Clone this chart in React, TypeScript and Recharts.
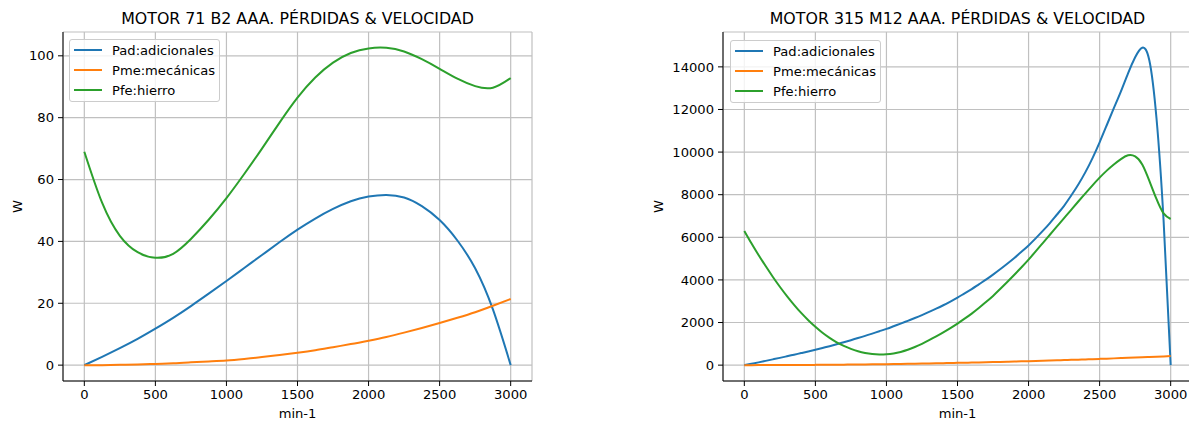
import { CartesianGrid, Legend, Line, LineChart, XAxis, YAxis } from 'recharts';

const FONT = '"DejaVu Sans", sans-serif';

// MOTOR 71 B2 AAA — losses (W) vs speed (min-1), every 125 min-1
const rpm71 = [0, 125, 250, 375, 500, 625, 750, 875, 1000, 1125, 1250, 1375, 1500, 1625, 1750, 1875, 2000, 2125, 2250, 2375, 2500, 2625, 2750, 2875, 3000];
const pad71 = [0, 2.7, 5.5, 8.5, 11.8, 15.3, 19.1, 23.1, 27.2, 31.4, 35.6, 39.8, 43.8, 47.4, 50.5, 53.0, 54.5, 55.0, 54.2, 51.4, 46.9, 40.3, 31.3, 18.0, 0];
const pme71 = [0, 0, 0.1, 0.2, 0.4, 0.6, 0.9, 1.2, 1.5, 2.0, 2.6, 3.3, 4.0, 4.8, 5.8, 6.8, 7.9, 9.1, 10.5, 12.0, 13.6, 15.3, 17.1, 19.2, 21.4];
const pfe71 = [69.0, 52.5, 41.8, 36.5, 34.7, 36.0, 40.8, 47.0, 54.0, 61.8, 70.0, 78.5, 86.5, 93.0, 97.8, 100.9, 102.4, 102.6, 101.4, 98.9, 95.8, 92.6, 90.2, 89.7, 92.8];

// MOTOR 315 M12 AAA — every 50 min-1
const rpm315 = [
  0, 50, 100, 150, 200, 250, 300, 350, 400, 450, 500, 550, 600, 650, 700, 750, 800, 850, 900, 950,
  1000, 1050, 1100, 1150, 1200, 1250, 1300, 1350, 1400, 1450, 1500, 1550, 1600, 1650, 1700, 1750, 1800, 1850, 1900, 1950,
  2000, 2050, 2100, 2150, 2200, 2250, 2300, 2350, 2400, 2450, 2500, 2550, 2600, 2650, 2700, 2750, 2800, 2850, 2900, 2950, 3000,
];
const pad315 = [
  0, 65, 130, 200, 270, 340, 415, 490, 565, 640, 720, 805, 890, 980, 1075, 1170, 1270, 1375, 1480, 1590,
  1700, 1825, 1950, 2080, 2210, 2350, 2500, 2650, 2810, 2985, 3170, 3370, 3570, 3790, 4010, 4250, 4500, 4760, 5030, 5320,
  5620, 5950, 6300, 6670, 7070, 7480, 7960, 8480, 9060, 9720, 10460, 11260, 12060, 12850, 13700, 14450, 14900, 14300, 11600, 6800, 0,
];
const pme315 = [
  0, 0, 1, 1, 2, 3, 4, 6, 7, 9, 12, 14, 17, 20, 23, 26, 30, 34, 38, 42,
  47, 52, 57, 62, 68, 73, 80, 86, 92, 99, 106, 113, 120, 128, 136, 144, 152, 160, 169, 178,
  187, 196, 206, 216, 226, 237, 247, 258, 269, 281, 293, 305, 317, 329, 342, 355, 368, 382, 395, 409, 423,
];
const pfe315 = [
  6300, 5720, 5170, 4650, 4150, 3680, 3240, 2830, 2450, 2110, 1800, 1520, 1280, 1070, 900, 760, 650, 570, 520, 500,
  510, 550, 620, 720, 850, 1000, 1170, 1350, 1540, 1740, 1950, 2180, 2420, 2680, 2960, 3250, 3570, 3900, 4240, 4590,
  4950, 5340, 5730, 6120, 6510, 6900, 7290, 7680, 8060, 8440, 8800, 9130, 9420, 9670, 9850, 9800, 9420, 8650, 7800, 7120, 6860,
];

const xTicks = [0, 500, 1000, 1500, 2000, 2500, 3000];
const yTicks71 = [0, 20, 40, 60, 80, 100];
const yTicks315 = [0, 2000, 4000, 6000, 8000, 10000, 12000, 14000];

const series = [
  { key: 'pad', name: 'Pad:adicionales', color: '#1f77b4' },
  { key: 'pme', name: 'Pme:mecánicas', color: '#ff7f0e' },
  { key: 'pfe', name: 'Pfe:hierro', color: '#2ca02c' },
];

function makeRows(rpm: number[], pad: number[], pme: number[], pfe: number[]) {
  return rpm.map((r, i) => ({ rpm: r, pad: pad[i], pme: pme[i], pfe: pfe[i] }));
}

const tickStyle = { fill: '#000', fontSize: 13.1, fontFamily: FONT };

// matplotlib-like legend box, keeps the plotting order
function MplLegend() {
  return (
    <div
      style={{
        boxSizing: 'border-box',
        width: 151,
        height: 63,
        border: '1px solid #cccccc',
        borderRadius: 3,
        background: 'rgba(255,255,255,0.8)',
        paddingLeft: 4,
        fontFamily: FONT,
        fontSize: 13.1,
        color: '#000',
      }}
    >
      {series.map((s) => (
        <div key={s.key} style={{ height: 20, display: 'flex', alignItems: 'center' }}>
          <span style={{ display: 'inline-block', width: 28, height: 2, background: s.color, marginRight: 10 }} />
          <span>{s.name}</span>
        </div>
      ))}
    </div>
  );
}

interface PanelProps {
  left: number;
  data: ReturnType<typeof makeRows>;
  yDomain: [number, number];
  yTicks: number[];
  legendLeft: number;
  legendTop: number;
}

function Panel({ left, data, yDomain, yTicks, legendLeft, legendTop }: PanelProps) {
  return (
    <div style={{ position: 'absolute', left, top: 0 }}>
      <LineChart width={540} height={423} data={data} margin={{ top: 32, right: 8, bottom: 12, left: 0 }}>
        <CartesianGrid stroke="#c0c0c0" strokeWidth={1.2} />
        <XAxis
          dataKey="rpm"
          type="number"
          domain={[-150, 3150]}
          ticks={xTicks}
          allowDataOverflow
          height={30}
          tick={tickStyle}
          tickSize={5}
          tickMargin={4}
          tickLine={{ stroke: '#000' }}
          axisLine={{ stroke: '#000' }}
        />
        <XAxis xAxisId="top" orientation="top" type="number" domain={[-150, 3150]} allowDataOverflow height={0} tick={false} tickLine={false} axisLine={{ stroke: '#000' }} />
        <YAxis
          type="number"
          domain={yDomain}
          ticks={yTicks}
          allowDataOverflow
          width={63}
          tick={tickStyle}
          tickSize={5}
          tickMargin={4}
          tickLine={{ stroke: '#000' }}
          axisLine={{ stroke: '#000' }}
        />
        <YAxis yAxisId="right" orientation="right" type="number" domain={yDomain} allowDataOverflow width={0} tick={false} tickLine={false} axisLine={{ stroke: '#000' }} />
        {series.map((s) => (
          <Line
            key={s.key}
            type="natural"
            dataKey={s.key}
            name={s.name}
            stroke={s.color}
            strokeWidth={2}
            dot={false}
            activeDot={false}
            isAnimationActive={false}
          />
        ))}
        <Legend
          layout="horizontal"
          align="center"
          verticalAlign="middle"
          content={<MplLegend />}
          wrapperStyle={{ left: legendLeft, top: legendTop, width: 151, height: 63 }}
        />
      </LineChart>
    </div>
  );
}

export default function App() {
  return (
    <div style={{ position: 'absolute', left: 0, top: 0, width: 1189, height: 423, overflow: 'hidden', background: '#fff' }}>
      <Panel left={0} data={makeRows(rpm71, pad71, pme71, pfe71)} yDomain={[-5.13, 107.7]} yTicks={yTicks71} legendLeft={69} legendTop={39} />
      <Panel left={660} data={makeRows(rpm315, pad315, pme315, pfe315)} yDomain={[-745, 15637]} yTicks={yTicks315} legendLeft={70} legendTop={40} />
      <svg width={1189} height={423} style={{ position: 'absolute', left: 0, top: 0, pointerEvents: 'none' }} fontFamily={FONT} fill="#000">
        <text x={297.5} y={24} fontSize={15.8} textAnchor="middle">MOTOR 71 B2 AAA. PÉRDIDAS &amp; VELOCIDAD</text>
        <text x={957.5} y={24} fontSize={15.8} textAnchor="middle">MOTOR 315 M12 AAA. PÉRDIDAS &amp; VELOCIDAD</text>
        <text x={297.5} y={418} fontSize={13.1} textAnchor="middle">min-1</text>
        <text x={957.5} y={418} fontSize={13.1} textAnchor="middle">min-1</text>
        <text transform="translate(22,206.5) rotate(-90)" fontSize={13.1} textAnchor="middle">W</text>
        <text transform="translate(663,206.5) rotate(-90)" fontSize={13.1} textAnchor="middle">W</text>
      </svg>
    </div>
  );
}
